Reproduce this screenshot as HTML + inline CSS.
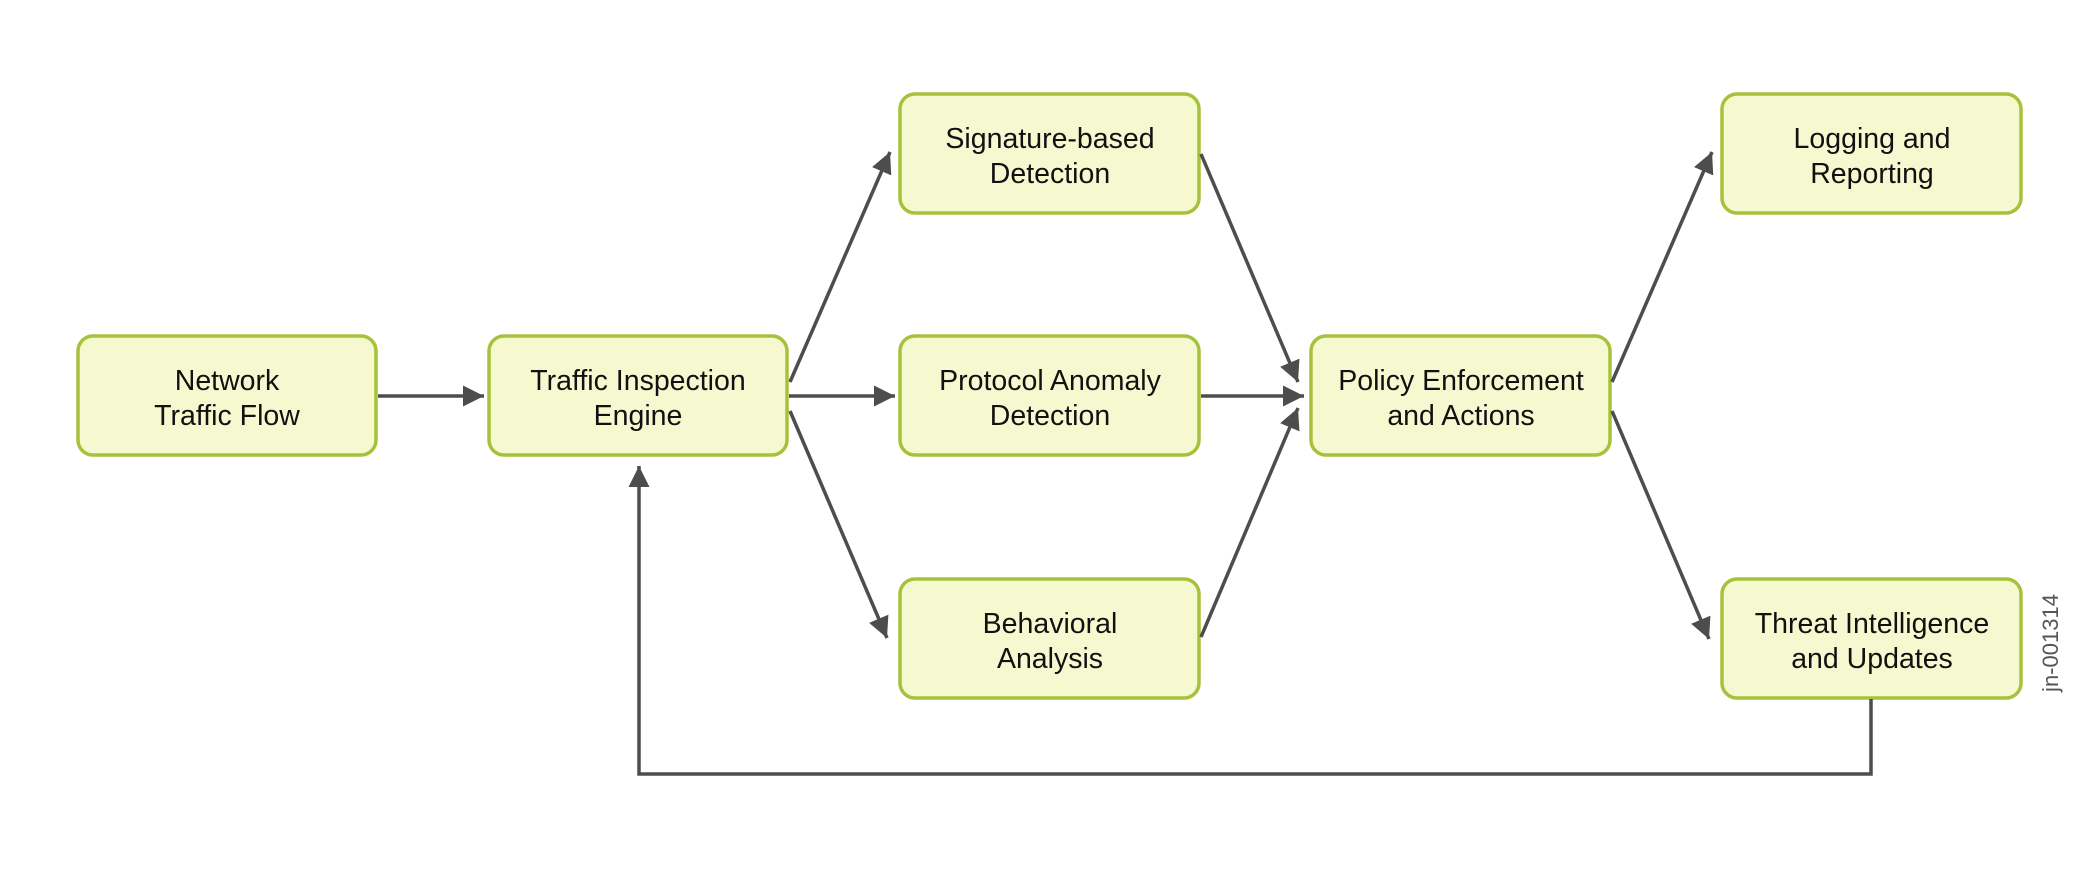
<!DOCTYPE html>
<html><head><meta charset="utf-8"><style>
html,body{margin:0;padding:0;background:#fff}
svg{display:block}
text{font-family:"Liberation Sans",sans-serif;font-size:28.5px;fill:#111;text-anchor:middle}
</style></head><body>
<svg width="2100" height="871" viewBox="0 0 2100 871">
<defs>
<marker id="a" viewBox="0 0 10 10" refX="10" refY="5" markerWidth="6" markerHeight="6" markerUnits="strokeWidth" orient="auto">
<path d="M0,0 L10,5 L0,10 z" fill="#4d4d4d"/></marker>
</defs>
<g fill="#f6f9cf" stroke="#a6c23a" stroke-width="3.5">
<rect x="78" y="336" width="298" height="119" rx="15"/>
<rect x="489" y="336" width="298" height="119" rx="15"/>
<rect x="900" y="94" width="299" height="119" rx="15"/>
<rect x="900" y="336" width="299" height="119" rx="15"/>
<rect x="900" y="579" width="299" height="119" rx="15"/>
<rect x="1311" y="336" width="299" height="119" rx="15"/>
<rect x="1722" y="94" width="299" height="119" rx="15"/>
<rect x="1722" y="579" width="299" height="119" rx="15"/>
</g>
<g stroke="#4d4d4d" stroke-width="3.5" fill="none" marker-end="url(#a)">
<line x1="378" y1="396" x2="484" y2="396"/>
<line x1="789" y1="396" x2="895" y2="396"/>
<line x1="1201" y1="396" x2="1304" y2="396"/>
<line x1="790" y1="382" x2="890" y2="152"/>
<line x1="790" y1="411" x2="887" y2="638"/>
<line x1="1201" y1="154" x2="1298" y2="382"/>
<line x1="1201" y1="637" x2="1298" y2="408"/>
<line x1="1612" y1="382" x2="1712" y2="152"/>
<line x1="1612" y1="411" x2="1709" y2="639"/>
<polyline points="1871,699 1871,774 639,774 639,466"/>
</g>
<text x="227" y="390">Network</text><text x="227" y="425">Traffic Flow</text>
<text x="638" y="390">Traffic Inspection</text><text x="638" y="425">Engine</text>
<text x="1050" y="148">Signature-based</text><text x="1050" y="183">Detection</text>
<text x="1050" y="390">Protocol Anomaly</text><text x="1050" y="425">Detection</text>
<text x="1050" y="633">Behavioral</text><text x="1050" y="668">Analysis</text>
<text x="1461" y="390">Policy Enforcement</text><text x="1461" y="425">and Actions</text>
<text x="1872" y="148">Logging and</text><text x="1872" y="183">Reporting</text>
<text x="1872" y="633">Threat Intelligence</text><text x="1872" y="668">and Updates</text>
<text transform="translate(2058,643) rotate(-90)" style="font-size:22px;fill:#555">jn-001314</text>
</svg>
</body></html>
